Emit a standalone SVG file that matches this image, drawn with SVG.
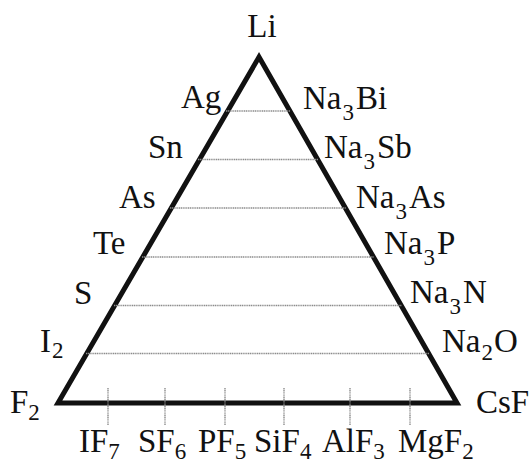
<svg xmlns="http://www.w3.org/2000/svg" width="530" height="463" viewBox="0 0 530 463">
<style>
.t{font-family:"Liberation Serif","Times New Roman",serif;font-size:33px;fill:#111}
.s{font-size:23px}
.tri{fill:none;stroke:#111;stroke-width:5;stroke-linejoin:miter;stroke-miterlimit:10}
.h{stroke:#8c8c8c;stroke-width:1.6;stroke-dasharray:1.2 0.6}
.k{stroke:#8c8c8c;stroke-width:1.4;stroke-dasharray:1.2 0.6}
</style>
<rect width="530" height="463" fill="#fff"/>
<g id="connectors">
<path class="tri" d="M259,57 L457,403 L58,403 Z"/>
<g>
<line class="h" x1="226" y1="111" x2="290" y2="111"/>
<line class="h" x1="198" y1="159.5" x2="318" y2="159.5"/>
<line class="h" x1="170" y1="208" x2="346" y2="208"/>
<line class="h" x1="142" y1="257" x2="374" y2="257"/>
<line class="h" x1="114" y1="305.5" x2="402" y2="305.5"/>
<line class="h" x1="86" y1="353.5" x2="429" y2="353.5"/>
</g>
<g>
<line class="k" x1="108" y1="388" x2="108" y2="425"/>
<line class="k" x1="165" y1="388" x2="165" y2="425"/>
<line class="k" x1="225" y1="388" x2="225" y2="425"/>
<line class="k" x1="284" y1="388" x2="284" y2="425"/>
<line class="k" x1="350" y1="388" x2="350" y2="425"/>
<line class="k" x1="410" y1="388" x2="410" y2="425"/>
</g>
</g>
<g id="Li"><text class="t" x="262" y="37" text-anchor="middle">Li</text></g>
<g id="Ag"><text class="t" x="181" y="108">Ag</text></g>
<g id="Sn"><text class="t" x="148" y="158">Sn</text></g>
<g id="As"><text class="t" x="119" y="208">As</text></g>
<g id="Te"><text class="t" x="93" y="254">Te</text></g>
<g id="S"><text class="t" x="74" y="304">S</text></g>
<g id="I2"><text class="t" x="40" y="352">I<tspan class="s" dx="1" dy="6">2</tspan></text></g>
<g id="F2"><text class="t" x="10" y="413">F<tspan class="s" dy="7">2</tspan></text></g>
<g id="Na3Bi"><text class="t" x="303" y="109">Na<tspan class="s" dx="1" dy="11">3</tspan><tspan dx="2" dy="-11">Bi</tspan></text></g>
<g id="Na3Sb"><text class="t" x="324" y="158">Na<tspan class="s" dx="1" dy="11">3</tspan><tspan dx="2" dy="-11">Sb</tspan></text></g>
<g id="Na3As"><text class="t" x="356" y="208">Na<tspan class="s" dx="1" dy="11">3</tspan><tspan dx="2" dy="-11">As</tspan></text></g>
<g id="Na3P"><text class="t" x="384" y="254">Na<tspan class="s" dx="1" dy="11">3</tspan><tspan dx="2" dy="-11">P</tspan></text></g>
<g id="Na3N"><text class="t" x="410" y="303">Na<tspan class="s" dx="1" dy="11">3</tspan><tspan dx="2" dy="-11">N</tspan></text></g>
<g id="Na2O"><text class="t" x="442" y="352">Na<tspan class="s" dx="1" dy="8">2</tspan><tspan dx="1" dy="-8">O</tspan></text></g>
<g id="CsF"><text class="t" x="476" y="413">CsF</text></g>
<g id="IF7"><text class="t" x="79" y="452">IF<tspan class="s" dy="7">7</tspan></text></g>
<g id="SF6"><text class="t" x="138" y="452">SF<tspan class="s" dy="7">6</tspan></text></g>
<g id="PF5"><text class="t" x="198" y="452">PF<tspan class="s" dy="7">5</tspan></text></g>
<g id="SiF4"><text class="t" x="254" y="452">SiF<tspan class="s" dy="7">4</tspan></text></g>
<g id="AlF3"><text class="t" x="322" y="452">AlF<tspan class="s" dy="7">3</tspan></text></g>
<g id="MgF2"><text class="t" x="398" y="452">MgF<tspan class="s" dy="7">2</tspan></text></g>
</svg>
